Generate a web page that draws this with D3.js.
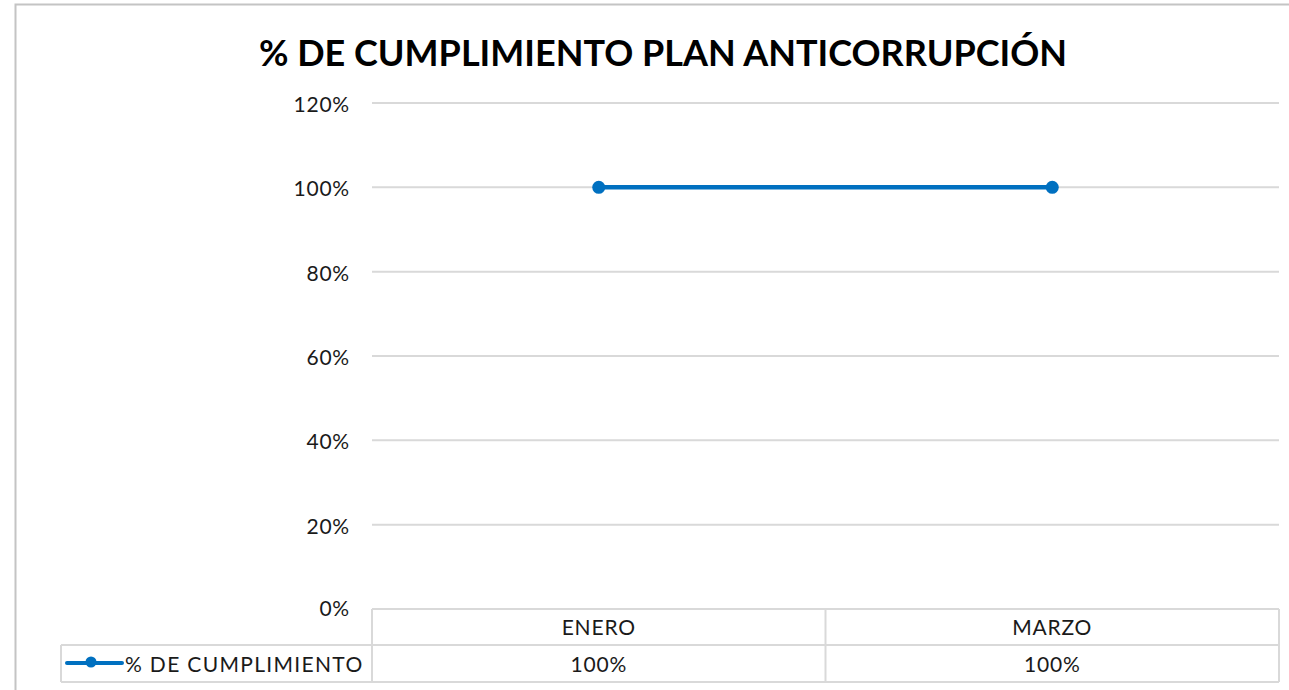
<!doctype html>
<html lang="es">
<head>
  <meta charset="utf-8">
  <title>% de cumplimiento plan anticorrupción</title>
  <script src="https://d3js.org/d3.v7.min.js"></script>
  <style>
    body {
      margin: 0px;
      background: #fff;
    }
    text {
      font-family: "Lato", "DejaVu Sans", sans-serif;
      fill: #000;
    }
    .lbl {
      font-size: 21px;
      font-weight: 400;
      letter-spacing: 0.8px;
      fill: #1a1a1a;
    }
  </style>
</head>
<body>
  <div id="container"></div>

  <script>
    var months = ["ENERO", "MARZO"];
    var values = [1.0, 1.0];
    var yTicks = [0, 0.2, 0.4, 0.6, 0.8, 1.0, 1.2];
    var seriesName = "% DE CUMPLIMIENTO";
    var title = "% DE CUMPLIMIENTO PLAN ANTICORRUPCIÓN";

    var W = 1289, H = 690;
    var blue = "#0070C0", grid = "#d9d9d9";
    var pct = d3.format(".0%");

    var svg = d3.select("#container").append("svg")
        .attr("width", W)
        .attr("height", H);

    // chart frame
    svg.append("rect")
        .attr("x", 15.5).attr("y", 4.5)
        .attr("width", W + 20).attr("height", H + 20)
        .attr("fill", "none")
        .attr("stroke", "#c4c4c4")
        .attr("stroke-width", 2);

    svg.append("text")
        .attr("x", 663).attr("y", 66)
        .attr("text-anchor", "middle")
        .style("font-size", "36px")
        .style("font-weight", "bold")
        .text(title);

    var x = d3.scaleBand()
        .domain(months)
        .range([372, 1279]);

    var y = d3.scaleLinear()
        .domain([0, 1.2])
        .range([609, 103]);

    // gridlines
    svg.append("g")
        .selectAll("line")
        .data(yTicks.slice(1))
        .enter()
        .append("line")
            .attr("x1", 372).attr("x2", 1279)
            .attr("y1", function (d) { return y(d); })
            .attr("y2", function (d) { return y(d); })
            .attr("stroke", grid)
            .attr("stroke-width", 2);

    // y labels
    svg.append("g")
        .selectAll("text")
        .data(yTicks)
        .enter()
        .append("text")
            .attr("class", "lbl")
            .attr("x", 350)
            .attr("y", function (d) { return y(d) + (d === 0 ? 7 : 9); })
            .attr("text-anchor", "end")
            .text(function (d) { return pct(d); });

    // data table
    var rowTop = 609, rowMid = 645, rowBot = 682;
    var table = svg.append("g")
        .attr("stroke", grid)
        .attr("stroke-width", 2);
    table.append("line").attr("x1", 372).attr("x2", 1279).attr("y1", rowTop).attr("y2", rowTop);
    table.append("line").attr("x1", 61).attr("x2", 1279).attr("y1", rowMid).attr("y2", rowMid);
    table.append("line").attr("x1", 61).attr("x2", 1279).attr("y1", rowBot).attr("y2", rowBot);
    table.append("line").attr("x1", 61).attr("x2", 61).attr("y1", rowMid).attr("y2", rowBot);
    table.append("g")
        .selectAll("line")
        .data(months.concat(["end"]))
        .enter()
        .append("line")
            .attr("x1", function (d, i) { return i < months.length ? x(d) : x.range()[1]; })
            .attr("x2", function (d, i) { return i < months.length ? x(d) : x.range()[1]; })
            .attr("y1", rowTop).attr("y2", rowBot);

    svg.append("g")
        .selectAll("text")
        .data(months)
        .enter()
        .append("text")
            .attr("class", "lbl")
            .attr("x", function (d) { return x(d) + x.bandwidth() / 2; })
            .attr("y", 635)
            .attr("text-anchor", "middle")
            .text(function (d) { return d; });

    svg.append("g")
        .selectAll("text")
        .data(values)
        .enter()
        .append("text")
            .attr("class", "lbl")
            .attr("x", function (d, i) { return x(months[i]) + x.bandwidth() / 2; })
            .attr("y", 672)
            .attr("text-anchor", "middle")
            .text(function (d) { return pct(d); });

    // legend key
    svg.append("line")
        .attr("x1", 67).attr("x2", 122)
        .attr("y1", 663).attr("y2", 663)
        .attr("stroke", blue)
        .attr("stroke-width", 4)
        .attr("stroke-linecap", "round");
    svg.append("circle")
        .attr("cx", 91).attr("cy", 662).attr("r", 5.5)
        .attr("fill", blue);
    svg.append("text")
        .attr("class", "lbl")
        .attr("x", 125).attr("y", 672)
        .attr("textLength", 238)
        .text(seriesName);

    // series line
    var line = d3.line()
        .x(function (d, i) { return x(months[i]) + x.bandwidth() / 2; })
        .y(function (d) { return y(d); });

    svg.append("path")
        .datum(values)
        .attr("d", line)
        .attr("fill", "none")
        .attr("stroke", blue)
        .attr("stroke-width", 4.5)
        .attr("stroke-linecap", "round");

    svg.append("g")
        .selectAll("circle")
        .data(values)
        .enter()
        .append("circle")
            .attr("cx", function (d, i) { return x(months[i]) + x.bandwidth() / 2; })
            .attr("cy", function (d) { return y(d); })
            .attr("r", 6.5)
            .attr("fill", blue);
  </script>
</body>
</html>
